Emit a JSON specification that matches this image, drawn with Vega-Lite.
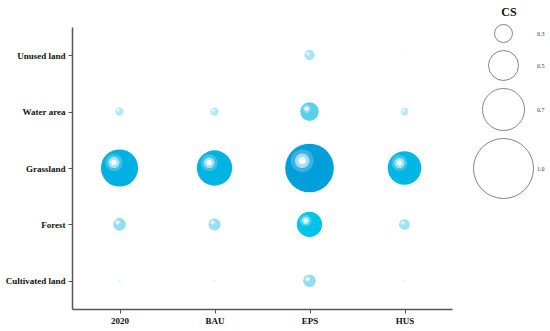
{
  "$schema": "https://vega.github.io/schema/vega-lite/v6.json",
  "width": 380,
  "height": 282,
  "autosize": "none",
  "padding": {"left": 72, "top": 27, "right": 98, "bottom": 22},
  "background": "white",
  "config": {
    "view": {"stroke": null},
    "font": "Liberation Serif",
    "axis": {"grid": false, "domainColor": "#555", "domainWidth": 1.5, "tickColor": "#555", "tickWidth": 1, "tickSize": 4, "labelFont": "Liberation Serif", "labelFontWeight": "bold", "labelFontSize": 9, "labelColor": "#111", "title": null}
  },
  "data": {
    "values": [
      {"scenario": "2020", "land": "Unused land", "CS": 0.01},
      {"scenario": "2020", "land": "Water area", "CS": 0.14},
      {"scenario": "2020", "land": "Grassland", "CS": 0.62},
      {"scenario": "2020", "land": "Forest", "CS": 0.21},
      {"scenario": "2020", "land": "Cultivated land", "CS": 0.05},
      {"scenario": "BAU", "land": "Unused land", "CS": 0.01},
      {"scenario": "BAU", "land": "Water area", "CS": 0.14},
      {"scenario": "BAU", "land": "Grassland", "CS": 0.59},
      {"scenario": "BAU", "land": "Forest", "CS": 0.2},
      {"scenario": "BAU", "land": "Cultivated land", "CS": 0.04},
      {"scenario": "EPS", "land": "Unused land", "CS": 0.17},
      {"scenario": "EPS", "land": "Water area", "CS": 0.31},
      {"scenario": "EPS", "land": "Grassland", "CS": 0.81},
      {"scenario": "EPS", "land": "Forest", "CS": 0.42},
      {"scenario": "EPS", "land": "Cultivated land", "CS": 0.21},
      {"scenario": "HUS", "land": "Unused land", "CS": 0.02},
      {"scenario": "HUS", "land": "Water area", "CS": 0.13},
      {"scenario": "HUS", "land": "Grassland", "CS": 0.56},
      {"scenario": "HUS", "land": "Forest", "CS": 0.18},
      {"scenario": "HUS", "land": "Cultivated land", "CS": 0.04}
    ]
  },
  "encoding": {
    "x": {"field": "scenario", "type": "ordinal", "sort": ["2020", "BAU", "EPS", "HUS"], "scale": {"type": "point", "padding": 0.5}, "axis": {"labelAngle": 0, "labelPadding": 3}},
    "y": {"field": "land", "type": "ordinal", "sort": ["Unused land", "Water area", "Grassland", "Forest", "Cultivated land"], "scale": {"type": "point", "padding": 0.5}, "axis": {"labelPadding": 3}},
    "size": {
      "field": "CS", "type": "quantitative",
      "scale": {"type": "pow", "exponent": 2, "domain": [0, 1], "range": [0, 3600]},
      "legend": {
        "title": "CS", "orient": "none", "legendX": 401, "legendY": -20,
        "values": [0.3, 0.5, 0.7, 1.0], "format": ".1f",
        "symbolType": "circle", "symbolStrokeColor": "#666", "symbolStrokeWidth": 0.8, "symbolFillColor": "transparent",
        "titleFont": "Liberation Serif", "titleFontSize": 12, "titleFontWeight": "bold", "titleColor": "#111", "titleAnchor": "middle", "titlePadding": 5,
        "labelFont": "Liberation Serif", "labelFontSize": 6, "labelColor": "#333", "labelOffset": 3,
        "rowPadding": 3,
        "encode": {
          "symbols": {"update": {"fill": {"value": "transparent"}, "stroke": {"value": "#666"}, "strokeWidth": {"value": 0.8}, "opacity": {"value": 1}}},
          "labels": {"update": {"x": {"value": 62}}}
        }
      }
    }
  },
  "layer": [
    {
      "mark": {"type": "circle", "opacity": 1},
      "encoding": {
        "color": {"field": "CS", "type": "quantitative", "legend": null,
          "scale": {"type": "linear", "domain": [0, 0.15, 0.22, 0.32, 0.42, 0.6, 0.8], "range": ["#f0fafc", "#b0e8f3", "#8cdcf0", "#50cfeb", "#00c3ea", "#00b2e3", "#009fdc"]}}
      }
    },
    {
      "mark": {"type": "point", "filled": true, "fill": "white", "opacity": 0.22, "strokeWidth": 0,
        "shape": "M -0.77,-0.3 A 0.47,0.47 0 1,1 0.17,-0.3 A 0.47,0.47 0 1,1 -0.77,-0.3 Z"}
    },
    {
      "mark": {"type": "point", "filled": true, "fill": "white", "opacity": 0.55, "strokeWidth": 0,
        "shape": "M -0.6,-0.3 A 0.3,0.3 0 1,1 0,-0.3 A 0.3,0.3 0 1,1 -0.6,-0.3 Z"}
    },
    {
      "mark": {"type": "point", "filled": true, "fill": "white", "opacity": 1, "strokeWidth": 0,
        "shape": "M -0.45,-0.3 A 0.15,0.15 0 1,1 -0.15,-0.3 A 0.15,0.15 0 1,1 -0.45,-0.3 Z"}
    }
  ]
}
